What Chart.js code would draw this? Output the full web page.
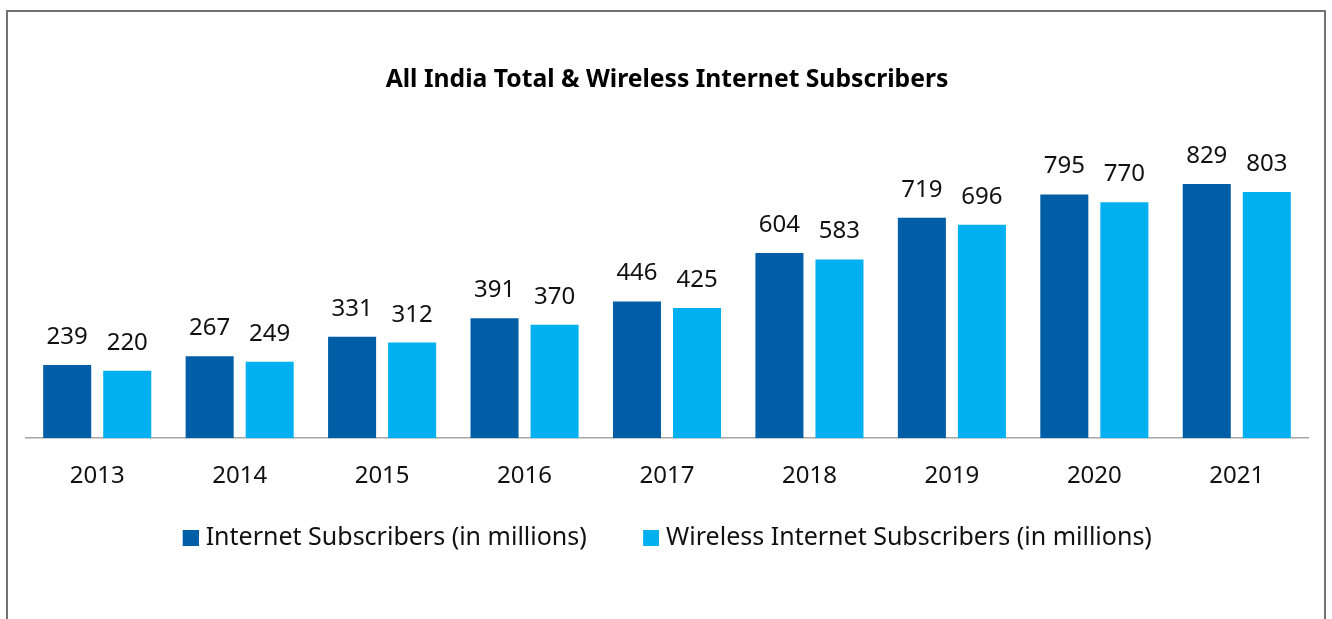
<!DOCTYPE html>
<html>
<head>
<meta charset="utf-8">
<title>All India Total & Wireless Internet Subscribers</title>
<script src="https://cdn.jsdelivr.net/npm/chart.js@4/dist/chart.umd.min.js"></script>
<style>
  html, body { margin: 0; padding: 0; background: #ffffff; }
  #wrap { position: relative; width: 1332px; height: 619px; overflow: hidden; }
  #frame {
    position: absolute; left: 6px; top: 10px; width: 1320px; height: 700px;
    border: 2px solid #737373; box-sizing: border-box; pointer-events: none;
  }
  canvas { position: absolute; left: 0; top: 0; }
</style>
</head>
<body>
<div id="wrap">
  <canvas id="chart" width="1332" height="619"></canvas>
  <div id="frame"></div>
</div>
<script>
// Years shown along the x axis
const years = ['2013', '2014', '2015', '2016', '2017', '2018', '2019', '2020', '2021'];
// Subscribers, in millions
const internetSubscribers = [239, 267, 331, 391, 446, 604, 719, 795, 829];
const wirelessSubscribers = [220, 249, 312, 370, 425, 583, 696, 770, 803];

const seriesNames = ['Internet Subscribers (in millions)', 'Wireless Internet Subscribers (in millions)'];
const seriesColors = ['#005EA6', '#00B0F0'];
const FONT = '"Noto Sans", "Open Sans", sans-serif';
const LEGEND_SIZE = 25;

// Legend marker: a 16px square drawn at the right end of its image so it sits
// close to the label text.
const MARK_SLOT = 11;
function legendMarker(color) {
  const c = document.createElement('canvas');
  c.width = MARK_SLOT + 11;
  c.height = 16;
  const g = c.getContext('2d');
  g.fillStyle = color;
  g.fillRect(c.width - 16, 0, 16, 16);
  return c;
}
const markers = seriesColors.map(legendMarker);
// wide gap after the first legend entry
const ITEM_GAP = '\u2003\u2002\u2009\u2009';

// Writes each bar's value just above it
const valueLabels = {
  id: 'valueLabels',
  afterDatasetsDraw(chart) {
    const ctx = chart.ctx;
    ctx.save();
    ctx.font = '24px ' + FONT;
    ctx.fillStyle = '#111111';
    ctx.textAlign = 'center';
    ctx.textBaseline = 'alphabetic';
    chart.data.datasets.forEach((ds, i) => {
      chart.getDatasetMeta(i).data.forEach((bar, j) => {
        ctx.fillText(String(ds.data[j]), bar.x, bar.y - 21);
      });
    });
    ctx.restore();
  }
};

new Chart(document.getElementById('chart'), {
  type: 'bar',
  data: {
    labels: years,
    datasets: [
      { label: seriesNames[0], data: internetSubscribers, backgroundColor: seriesColors[0] },
      { label: seriesNames[1], data: wirelessSubscribers, backgroundColor: seriesColors[1] }
    ]
  },
  options: {
    responsive: false,
    animation: false,
    events: [],
    layout: { padding: { left: 26, right: 24, top: 0, bottom: 59 } },
    datasets: { bar: { categoryPercentage: 0.843, barPercentage: 0.8 } },
    scales: {
      x: {
        grid: { display: false, drawTicks: false, tickLength: 0 },
        border: { display: true, color: '#A6A6A6', width: 1.5 },
        ticks: { padding: 24, color: '#111111', font: { family: FONT, size: 24 } }
      },
      y: {
        display: false,
        min: 0,
        max: 1000
      }
    },
    plugins: {
      title: {
        display: true,
        text: 'All India Total & Wireless Internet Subscribers',
        color: '#000000',
        font: { family: FONT, size: 24.7, weight: 'bold' },
        padding: { top: 65, bottom: 37 }
      },
      legend: {
        position: 'bottom',
        labels: {
          usePointStyle: true,
          pointStyleWidth: MARK_SLOT,
          boxHeight: 16,
          padding: 10,
          color: '#111111',
          font: { family: FONT, size: LEGEND_SIZE },
          generateLabels(chart) {
            const items = Chart.defaults.plugins.legend.labels.generateLabels(chart);
            items.forEach((item, k) => {
              item.pointStyle = markers[item.datasetIndex];
              if (k < items.length - 1) item.text += ITEM_GAP;
            });
            return items;
          }
        }
      },
      tooltip: { enabled: false }
    }
  },
  plugins: [valueLabels]
});
</script>
</body>
</html>
